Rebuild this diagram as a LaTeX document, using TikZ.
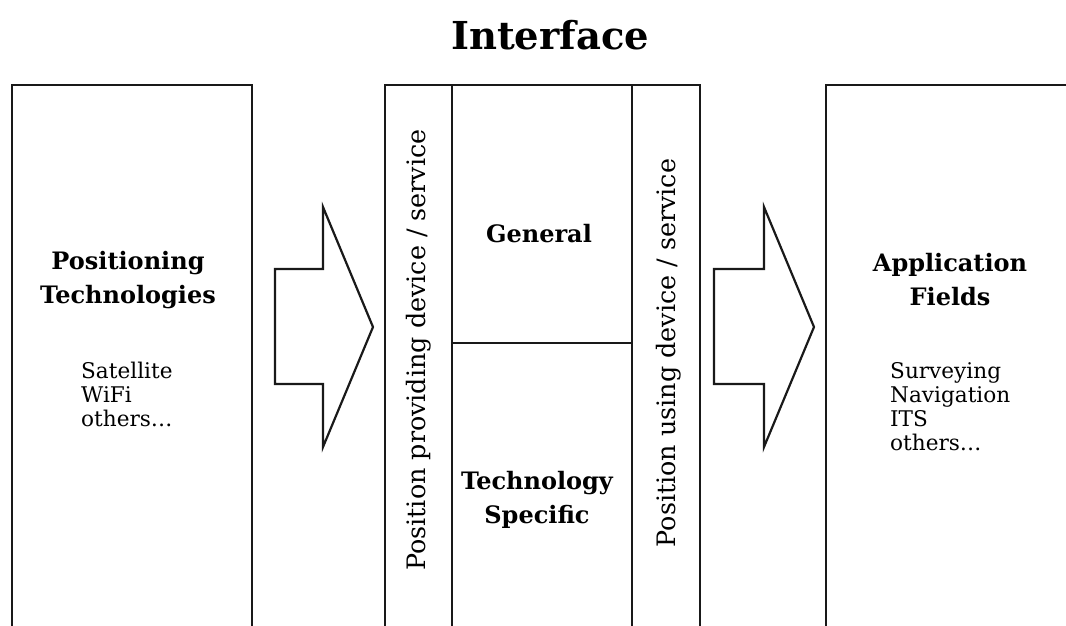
\documentclass[tikz,border=0pt]{standalone}
\usepackage{fontspec}
\setmainfont{DejaVu Serif}
\newfontfamily\vserif{DejaVu Serif}
\begin{document}
\begin{tikzpicture}[x=1pt,y=-1pt,
  box/.style={draw=black!90,line width=2.2pt},
  fatarrow/.style={draw=black!90,line width=2.2pt,line join=miter},
  head/.style={font=\bfseries\fontsize{24}{34}\selectfont,align=center,inner sep=0pt},
  body/.style={font=\fontsize{21.6}{24}\selectfont,align=left,anchor=north west,inner sep=0pt},
  vert/.style={font=\vserif\fontsize{25.4}{30}\selectfont,rotate=90,inner sep=0pt}]
\useasboundingbox (0,0) rectangle (1066,625);
\clip (0,0) rectangle (1066,625);
% title
\node[font=\bfseries\fontsize{38.5}{44}\selectfont,inner sep=0pt] (title) at (550,35) {Interface};
% left box
\draw[box] (12,640) -- (12,85) -- (252,85) -- (252,640);
\node[head] (pt) at (128,280) {Positioning\\Technologies};
\node[body] (ptl) at (81,362) {Satellite\\WiFi\\others…};
% middle block
\draw[box] (385,640) -- (385,85) -- (700,85) -- (700,640);
\draw[box] (452,85) -- (452,640);
\draw[box] (632,85) -- (632,640);
\draw[box] (452,343) -- (632,343);
\node[head] (gen) at (539,234) {General};
\node[head] (ts) at (537,500) {Technology\\Specific};
\node[vert] (ppd) at (419,350) {Position providing device / service};
\node[vert] (pud) at (669,353) {Position using device / service};
% right box
\draw[box] (1080,85) -- (826,85) -- (826,640);
\node[head] (af) at (950,280) {Application\\Fields};
\node[body] (afl) at (890,362) {Surveying\\Navigation\\ITS\\others…};
% arrows
\draw[fatarrow] (275,269) -- (323,269) -- (323,207) -- (373,327) -- (323,447) -- (323,384) -- (275,384) -- cycle;
\draw[fatarrow] (714,269) -- (764,269) -- (764,207) -- (814,327) -- (764,447) -- (764,384) -- (714,384) -- cycle;
\end{tikzpicture}
\end{document}
